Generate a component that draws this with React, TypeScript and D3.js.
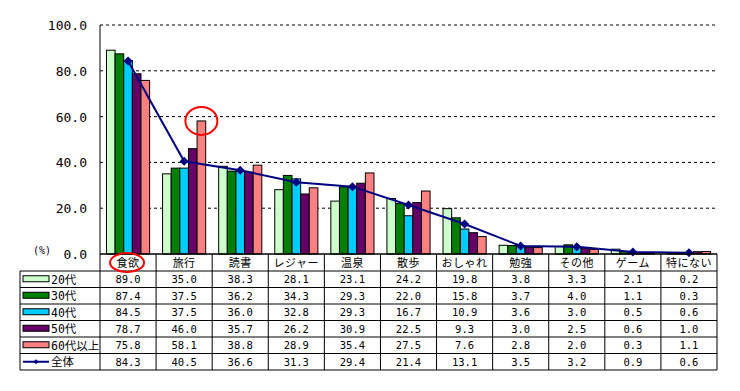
import React from "react";
import * as d3 from "d3";

const categories = ["食欲", "旅行", "読書", "レジャー", "温泉", "散歩", "おしゃれ", "勉強", "その他", "ゲーム", "特にない"];
const seriesNames = ["20代", "30代", "40代", "50代", "60代以上"];
const colors = ["#CCFFCC", "#008000", "#00CCFF", "#660066", "#FF8080"];

const age20 = [89.0, 35.0, 38.3, 28.1, 23.1, 24.2, 19.8, 3.8, 3.3, 2.1, 0.2];
const age30 = [87.4, 37.5, 36.2, 34.3, 29.3, 22.0, 15.8, 3.7, 4.0, 1.1, 0.3];
const age40 = [84.5, 37.5, 36.0, 32.8, 29.3, 16.7, 10.9, 3.6, 3.0, 0.5, 0.6];
const age50 = [78.7, 46.0, 35.7, 26.2, 30.9, 22.5, 9.3, 3.0, 2.5, 0.6, 1.0];
const age60 = [75.8, 58.1, 38.8, 28.9, 35.4, 27.5, 7.6, 2.8, 2.0, 0.3, 1.1];
const total = [84.3, 40.5, 36.6, 31.3, 29.4, 21.4, 13.1, 3.5, 3.2, 0.9, 0.6];

const yTicks = [0, 20, 40, 60, 80, 100];

const W = 740;
const H = 391;
const plot = { left: 100, right: 717, top: 25, bottom: 254 };
const tableLeft = 20;
const headerH = 17;
const rowH = 16.5;
// monospace digits, CJK glyphs fall back to Noto
const font = "'DejaVu Sans Mono', 'Noto Sans CJK JP', monospace";
const cjk = "'Noto Sans CJK JP', sans-serif";

export default function App() {
  const allSeries = [age20, age30, age40, age50, age60];

  const x = d3.scaleBand<string>().domain(categories).range([plot.left, plot.right]);
  const xs = d3
    .scaleBand<string>()
    .domain(seriesNames)
    .range([0, x.bandwidth()])
    .paddingOuter(0.75);
  const y = d3.scaleLinear().domain([0, 100]).range([plot.bottom, plot.top]);

  const line = d3
    .line<number>()
    .x((_, i) => (x(categories[i]) as number) + x.bandwidth() / 2)
    .y((d) => y(d));

  const rowLabels = [...seriesNames, "全体"];
  const rowValues = [...allSeries, total];
  const tableTop = plot.bottom + headerH;
  const tableBottom = tableTop + rowH * rowLabels.length;

  const diamond = (cx: number, cy: number, r = 4.5) =>
    `M${cx},${cy - r}L${cx + r},${cy}L${cx},${cy + r}L${cx - r},${cy}Z`;

  return (
    <svg width={W} height={H} style={{ position: "absolute", left: 0, top: 0, background: "#fff" }}>
      {/* gridlines */}
      {yTicks
        .filter((t) => t > 0)
        .map((t) => (
          <line key={t} x1={plot.left} x2={plot.right} y1={y(t)} y2={y(t)} stroke="#000" strokeDasharray="3,3" />
        ))}
      {/* y tick labels */}
      {yTicks.map((t) => (
        <text key={t} x={87} y={y(t) + 5} textAnchor="end" fontSize={13} fontFamily={font}>
          {t.toFixed(1)}
        </text>
      ))}
      <text x={42} y={254} textAnchor="middle" fontSize={10} fontFamily={font}>
        (%)
      </text>

      {/* bars */}
      {categories.map((c, i) => (
        <g key={c} transform={`translate(${x(c)},0)`}>
          {allSeries.map((s, j) => (
            <rect
              key={j}
              x={xs(seriesNames[j])}
              y={y(s[i])}
              width={xs.bandwidth()}
              height={plot.bottom - y(s[i])}
              fill={colors[j]}
              stroke="#000"
              strokeWidth={1}
            />
          ))}
        </g>
      ))}

      {/* total line */}
      <path d={line(total) || ""} fill="none" stroke="#000080" strokeWidth={2} />
      {total.map((v, i) => (
        <path key={i} d={diamond((x(categories[i]) as number) + x.bandwidth() / 2, y(v))} fill="#000080" />
      ))}

      {/* axis */}
      <line x1={plot.left} x2={plot.left} y1={plot.top} y2={tableBottom} stroke="#000" />

      {/* table */}
      <line x1={plot.left} x2={plot.right} y1={plot.bottom} y2={plot.bottom} stroke="#000" strokeWidth={1.5} />
      {rowLabels.map((_, r) => (
        <line
          key={r}
          x1={tableLeft}
          x2={plot.right}
          y1={tableTop + r * rowH}
          y2={tableTop + r * rowH}
          stroke="#000"
        />
      ))}
      <line x1={tableLeft} x2={plot.right} y1={tableBottom} y2={tableBottom} stroke="#000" />
      <line x1={tableLeft} x2={tableLeft} y1={tableTop} y2={tableBottom} stroke="#000" />
      {categories.map((c) => (
        <line
          key={c}
          x1={(x(c) as number) + x.bandwidth()}
          x2={(x(c) as number) + x.bandwidth()}
          y1={plot.bottom}
          y2={tableBottom}
          stroke="#000"
        />
      ))}
      {categories.map((c) => (
        <text
          key={c}
          x={(x(c) as number) + x.bandwidth() / 2}
          y={plot.bottom + 13}
          textAnchor="middle"
          fontSize={11}
          fontFamily={cjk}
          letterSpacing={0.5}
        >
          {c}
        </text>
      ))}
      {rowLabels.map((lab, r) => {
        const cy = tableTop + r * rowH + rowH / 2;
        return (
          <g key={lab}>
            {r < 5 ? (
              <rect x={23} y={cy - 3.5} width={26} height={6} fill={colors[r]} stroke="#000" />
            ) : (
              <g>
                <line x1={23} x2={49} y1={cy} y2={cy} stroke="#000080" strokeWidth={2} />
                <path d={diamond(36, cy, 2.5)} fill="#000080" />
              </g>
            )}
            <text x={51} y={cy + 4.5} fontSize={11.5} fontFamily={font}>
              {lab}
            </text>
            {rowValues[r].map((v, i) => (
              <text
                key={i}
                x={(x(categories[i]) as number) + x.bandwidth() / 2}
                y={cy + 4}
                textAnchor="middle"
                fontSize={10.5}
                fontFamily={font}
              >
                {v.toFixed(1)}
              </text>
            ))}
          </g>
        );
      })}

      {/* red highlight circles */}
      <ellipse
        cx={(x("旅行") as number) + (xs("60代以上") as number) + xs.bandwidth() / 2}
        cy={y(age60[1])}
        rx={16}
        ry={14}
        fill="none"
        stroke="#FF0000"
        strokeWidth={2}
      />
      <ellipse
        cx={(x("食欲") as number) + x.bandwidth() / 2 - 1}
        cy={plot.bottom + 8.5}
        rx={17}
        ry={9.5}
        fill="none"
        stroke="#FF0000"
        strokeWidth={2}
      />
    </svg>
  );
}
